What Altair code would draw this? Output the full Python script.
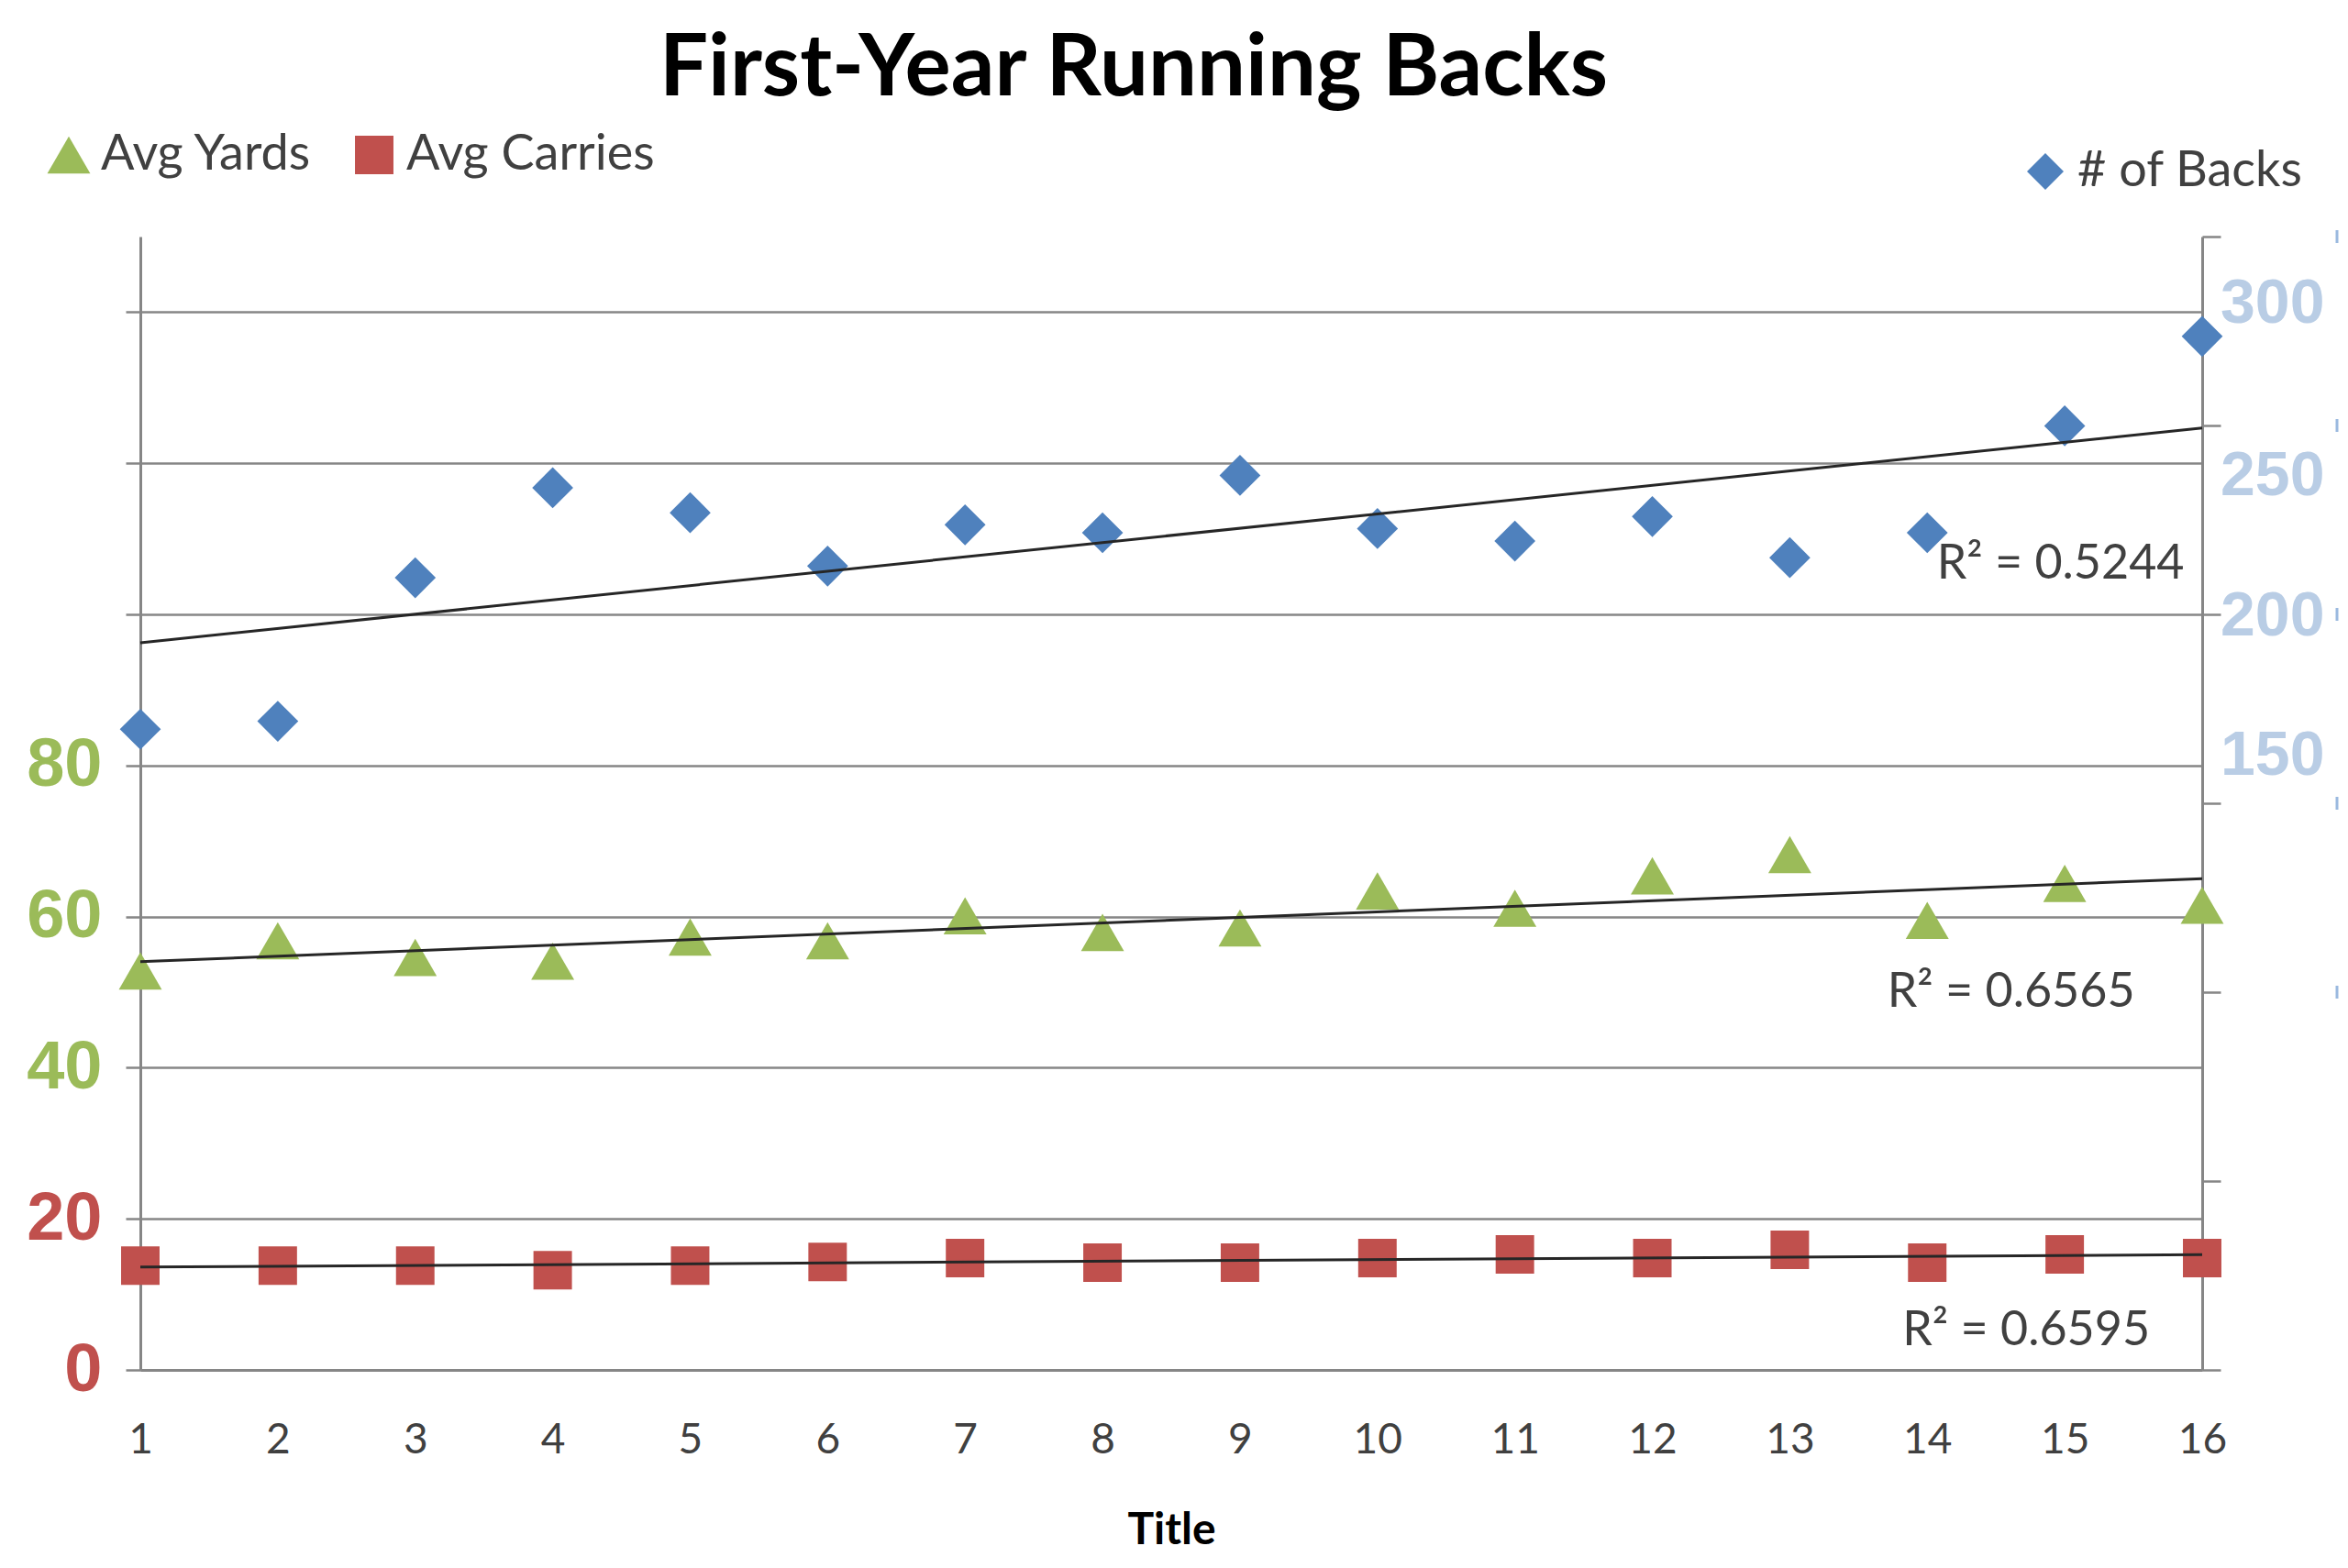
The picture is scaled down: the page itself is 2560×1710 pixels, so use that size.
import altair as alt
import pandas as pd

# ---------------- data ----------------
seasons = list(range(1, 17))
avg_yards = [52.8, 56.8, 54.6, 54.1, 57.3, 56.8, 60.1, 57.9,
             58.5, 63.4, 61.1, 65.4, 68.2, 59.5, 64.4, 61.5]
avg_carries = [13.8, 13.8, 13.8, 13.2, 13.8, 14.3, 14.8, 14.2,
               14.2, 14.8, 15.3, 14.8, 15.9, 14.2, 15.3, 14.8]
num_backs = [169.6, 171.7, 209.7, 233.5, 226.9, 212.8, 223.7, 221.6,
             236.8, 222.7, 219.4, 225.9, 215.0, 221.6, 249.9, 273.6]

left_series = ["Avg Yards", "Avg Carries"]
left_colors = ["#9BBB59", "#C0504D"]
left_shapes = ["triangle-up", "square"]
left_sizes = [2200, 1760]
right_series = ["# of Backs"]
right_colors = ["#4F81BD"]
right_shapes = ["diamond"]

r2_text = ["R\u00b2 = 0.5244", "R\u00b2 = 0.6565", "R\u00b2 = 0.6595"]
r2_x = [15.87, 15.51, 15.62]
r2_y = [106.7, 50.0, 5.2]

right_label_text = ["300", "250", "200", "150"]
right_label_pos = [282.1, 236.5, 199.2, 162.3]
right_dash_pos = [300, 250, 200, 150, 100]

left_tick_values = [0, 20, 40, 60, 80, 100, 120, 140]
right_tick_values = [0, 50, 100, 150, 200, 250, 300]

# ---------------- tables ----------------
left_rows = []
for i, s in enumerate(seasons):
    left_rows.append({"x": s, "series": left_series[0], "value": avg_yards[i]})
    left_rows.append({"x": s, "series": left_series[1], "value": avg_carries[i]})
left_df = pd.DataFrame(left_rows)
right_df = pd.DataFrame({"x": seasons, "series": right_series[0], "value": num_backs})
r2_df = pd.DataFrame({"x": r2_x, "value": r2_y, "label": r2_text})
rlab_df = pd.DataFrame({"x": [16] * len(right_label_text), "value": right_label_pos, "label": right_label_text})
dash_df = pd.DataFrame({"x": [16] * len(right_dash_pos), "value": right_dash_pos})

GRID = "#868686"
TXT = "#404040"

x_scale = alt.Scale(domain=[1, 16], nice=False, zero=False)
x_axis = alt.Axis(values=seasons, format="d", grid=False, ticks=False,
                  domainColor=GRID, domainWidth=3, labelFont="Lato",
                  labelFontSize=46, labelColor=TXT, labelPadding=54,
                  labelFlush=False, labelOverlap=False,
                  title="Title", titleFont="Lato", titleFontSize=48,
                  titleFontWeight="bold", titleColor="black", titlePadding=52)
X = alt.X("x:Q", scale=x_scale, axis=x_axis)

left_scale = alt.Scale(domain=[0, 150], nice=False, zero=True)
left_axis = alt.Axis(orient="left", values=left_tick_values, grid=True,
                     gridColor=GRID, gridWidth=2.5, tickSize=16, tickColor=GRID,
                     tickWidth=2.5, domainColor=GRID, domainWidth=3,
                     labelExpr="datum.value <= 80 ? datum.label : ''",
                     labelColor={"condition": {"test": "datum.value <= 20", "value": "#C0504D"},
                                 "value": "#9BBB59"},
                     labelFont="Liberation Sans", labelFontWeight="bold",
                     labelFontSize=74, labelPadding=26, title=None)
YL = alt.Y("value:Q", scale=left_scale, axis=left_axis)

right_scale = alt.Scale(domain=[0, 300], nice=False, zero=True)
right_axis = alt.Axis(orient="right", values=right_tick_values, grid=False,
                      labels=False, tickSize=20, tickColor=GRID, tickWidth=2.5,
                      domainColor=GRID, domainWidth=3, title=None)
YR = alt.Y("value:Q", scale=right_scale, axis=right_axis)

legend_common = dict(title=None, direction="horizontal", orient="none",
                     labelFont="Lato", labelFontSize=54, labelColor=TXT,
                     labelLimit=0, symbolSize=1600, symbolStrokeWidth=0,
                     labelOffset=8, columnPadding=40, padding=0)
left_legend = alt.Legend(legendX=-105, legendY=-116, **legend_common)
right_legend = alt.Legend(legendX=2050, legendY=-98, **legend_common)

left_points = alt.Chart(left_df).mark_point(filled=True, opacity=1).encode(
    x=X, y=YL,
    color=alt.Color("series:N", scale=alt.Scale(domain=left_series, range=left_colors), legend=left_legend),
    shape=alt.Shape("series:N", scale=alt.Scale(domain=left_series, range=left_shapes), legend=left_legend),
    size=alt.Size("series:N", scale=alt.Scale(domain=left_series, range=left_sizes), legend=None),
)
left_trend = alt.Chart(left_df).transform_regression(
    "x", "value", groupby=["series"]
).mark_line(color="#262626", strokeWidth=3).encode(x=X, y=YL, detail="series:N")
r2_labels = alt.Chart(r2_df).mark_text(
    align="right", baseline="middle", font="Lato", fontSize=52, color=TXT
).encode(x=X, y=YL, text="label:N")

left_layer = alt.layer(left_points, left_trend, r2_labels)

right_points = alt.Chart(right_df).mark_point(filled=True, opacity=1, size=2000).encode(
    x=X, y=YR,
    color=alt.Color("series:N", scale=alt.Scale(domain=right_series, range=right_colors), legend=right_legend),
    shape=alt.Shape("series:N", scale=alt.Scale(domain=right_series, range=right_shapes), legend=right_legend),
)
right_trend = alt.Chart(right_df).transform_regression(
    "x", "value"
).mark_line(color="#262626", strokeWidth=3).encode(x=X, y=YR)
right_labels = alt.Chart(rlab_df).mark_text(
    align="left", baseline="middle", dx=20, font="Liberation Sans",
    fontWeight="bold", fontSize=68, color="#B9CDE5"
).encode(x=X, y=YR, text="label:N")
right_dashes = alt.Chart(dash_df).mark_tick(
    orient="vertical", color="#6F9BD1", size=14, thickness=3, xOffset=147
).encode(x=X, y=YR)

right_layer = alt.layer(right_points, right_trend, right_labels, right_dashes)

chart = alt.layer(left_layer, right_layer).resolve_scale(
    y="independent", color="independent", shape="independent", size="independent"
).resolve_legend(
    color="independent", shape="independent"
).properties(
    width=2248, height=1236,
    padding={"left": 145, "top": 250, "right": 150, "bottom": 208},
    autosize=alt.AutoSizeParams(type="none"),
    title=alt.TitleParams("First-Year Running Backs", font="Lato", fontSize=94,
                          fontWeight="bold", color="black", anchor="middle",
                          dx=-41, dy=-14),
    background="white",
).configure_view(stroke=None)

chart.save("out.html", embed_options={"renderer": "svg", "actions": False})
